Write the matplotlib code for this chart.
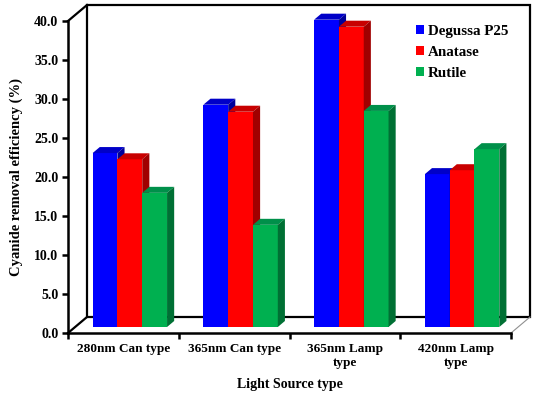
import numpy as np
import matplotlib
matplotlib.use("Agg")
import matplotlib.pyplot as plt
from matplotlib.patches import Polygon, Rectangle

# light sources and removal efficiency (%) for each catalyst
sources = ["280nm Can type", "365nm Can type", "365nm Lamp\ntype", "420nm Lamp\ntype"]
series = ["Degussa P25", "Anatase", "Rutile"]
p25 = [22.3, 28.5, 39.4, 19.6]
anatase = [21.5, 27.6, 38.5, 20.1]
rutile = [17.2, 13.1, 27.7, 22.8]
yticks = np.arange(0, 45, 5)

front = ["#0000FF", "#FF0000", "#00B050"]
top = ["#0000C8", "#C80000", "#00904A"]
side = ["#00009A", "#A00000", "#007034"]

plt.rcParams["font.family"] = "Liberation Serif"
plt.rcParams["font.weight"] = "bold"

fig = plt.figure(figsize=(5.33, 3.93), dpi=100)
W, H = 533, 393
ax = fig.add_axes([68 / W, (H - 333) / H, (511 - 68) / W, (333 - 21) / H])
ax.set_xlim(0, 4)
ax.set_ylim(0, 40)

# depth of the box in data units (from pixel offsets of the back wall)
ddx = 19 / ((511 - 68) / 4)
ddy = 16 / ((333 - 21) / 40)
f0, f1 = 0.375, 0.75   # bars sit in the middle of the floor depth

kw = dict(clip_on=False)
# back wall and floor
ax.add_patch(Rectangle((ddx, ddy), 4, 40, facecolor="white", edgecolor="black", lw=1.6, zorder=1, **kw))
ax.plot([0, ddx], [40, 40 + ddy], color="black", lw=1.6, **kw)
ax.plot([0, ddx], [0, ddy], color="black", lw=1.6, **kw)
ax.plot([4, 4 + ddx], [0, ddy], color="#909090", lw=0.8, **kw)

gap, bw = 0.158, 0.224
data = [p25, anatase, rutile]
for i in range(len(sources)):
    for j, vals in enumerate(data):
        v = vals[i]
        x0 = i + gap + j * bw
        ax.add_patch(Rectangle((x0 + f0 * ddx, f0 * ddy), bw, v, facecolor=front[j],
                               edgecolor="none", zorder=3, **kw))
        ax.add_patch(Polygon([(x0 + f0 * ddx, v + f0 * ddy), (x0 + bw + f0 * ddx, v + f0 * ddy),
                              (x0 + bw + f1 * ddx, v + f1 * ddy), (x0 + f1 * ddx, v + f1 * ddy)],
                             facecolor=top[j], edgecolor="none", zorder=3, **kw))
        ax.add_patch(Polygon([(x0 + bw + f0 * ddx, f0 * ddy), (x0 + bw + f1 * ddx, f1 * ddy),
                              (x0 + bw + f1 * ddx, v + f1 * ddy), (x0 + bw + f0 * ddx, v + f0 * ddy)],
                             facecolor=side[j], edgecolor="none", zorder=3, **kw))

for s in ["top", "right"]:
    ax.spines[s].set_visible(False)
for s in ["left", "bottom"]:
    ax.spines[s].set_linewidth(1.8)
    ax.spines[s].set_zorder(5)
ax.patch.set_visible(False)

ax.set_yticks(yticks)
ax.set_yticklabels([f"{t:.1f}" for t in yticks], fontsize=10, fontweight="bold")
ax.set_xticks(range(5))
ax.set_xticklabels([])
ax.set_xticks(np.arange(4) + 0.5, minor=True)
ax.set_xticklabels(sources, minor=True, fontsize=9.5, fontweight="bold", linespacing=1.3)
ax.tick_params(axis="x", which="minor", length=0, pad=7)
ax.tick_params(axis="x", which="major", direction="out", length=4, width=1.8)
ax.tick_params(axis="y", direction="out", length=4, width=1.8, pad=3)

ax.set_ylabel("Cyanide removal efficiency (%)", fontsize=10.5, fontweight="bold", labelpad=8)
ax.set_xlabel("Light Source type", fontsize=10, fontweight="bold", labelpad=6)

handles = [Rectangle((0, 0), 1, 1, facecolor=c) for c in front]
ax.legend(handles, series, loc="upper left", bbox_to_anchor=(0.755, 1.032), frameon=False,
          prop=dict(size=10.8, weight="bold"), handlelength=0.55, handleheight=0.55,
          handletextpad=0.25, labelspacing=0.55)

fig.savefig("out.png", dpi=100)
